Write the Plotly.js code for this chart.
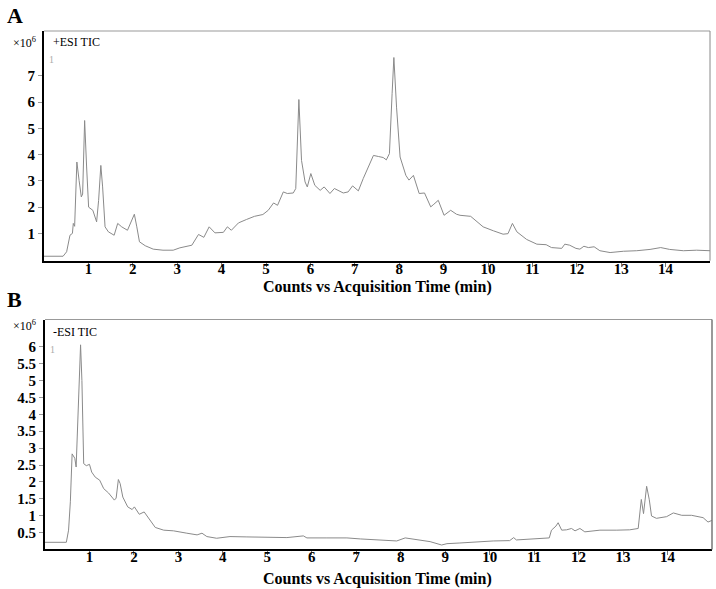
<!DOCTYPE html>
<html>
<head>
<meta charset="utf-8">
<script src="https://cdn.plot.ly/plotly-3.0.1.min.js"></script>
<style>html,body{margin:0;padding:0;background:#fff;}#chart{width:716px;height:589px;}</style>
</head>
<body>
<div id="chart"></div>
<script>
// Panel A: +ESI TIC (counts x10^6 vs minutes)
const timeA = [0, 0.43, 0.51, 0.585, 0.64, 0.66, 0.69, 0.74, 0.79, 0.84, 0.87, 0.915, 0.96, 1.005, 1.1, 1.14, 1.185, 1.23, 1.28, 1.32, 1.375, 1.45, 1.58, 1.66, 1.75, 1.88, 1.97, 2.035, 2.09, 2.15, 2.28, 2.46, 2.68, 2.91, 3.06, 3.33, 3.48, 3.6, 3.72, 3.85, 4.04, 4.13, 4.22, 4.38, 4.56, 4.74, 4.93, 5.05, 5.17, 5.26, 5.39, 5.48, 5.615, 5.67, 5.74, 5.80, 5.88, 5.93, 6.01, 6.1, 6.22, 6.31, 6.44, 6.54, 6.74, 6.85, 6.95, 7.08, 7.19, 7.30, 7.42, 7.53, 7.64, 7.71, 7.78, 7.84, 7.88, 7.94, 8.02, 8.15, 8.22, 8.32, 8.45, 8.57, 8.71, 8.78, 8.88, 9.01, 9.16, 9.29, 9.37, 9.61, 9.89, 10.12, 10.34, 10.45, 10.55, 10.65, 10.87, 11.10, 11.31, 11.43, 11.66, 11.73, 11.84, 11.98, 12.07, 12.16, 12.26, 12.39, 12.52, 12.75, 13.05, 13.35, 13.65, 13.89, 14.09, 14.40, 14.70, 15.0];
const countsA = [0.13, 0.13, 0.30, 0.93, 1.0, 1.38, 1.27, 3.72, 3.02, 2.39, 2.5, 5.30, 3.53, 2.0, 1.88, 1.69, 1.44, 2.26, 3.59, 2.77, 1.25, 1.06, 0.93, 1.38, 1.25, 1.12, 1.44, 1.73, 1.25, 0.68, 0.53, 0.40, 0.36, 0.36, 0.45, 0.55, 0.96, 0.85, 1.25, 1.02, 1.04, 1.25, 1.12, 1.40, 1.53, 1.65, 1.72, 1.88, 2.16, 2.07, 2.58, 2.52, 2.54, 2.71, 6.1, 3.78, 2.96, 2.77, 3.28, 2.83, 2.64, 2.77, 2.52, 2.71, 2.54, 2.58, 2.81, 2.62, 3.09, 3.53, 3.97, 3.93, 3.89, 3.80, 4.04, 6.32, 7.7, 5.81, 3.91, 3.21, 3.03, 3.21, 2.52, 2.54, 2.01, 2.11, 2.26, 1.69, 1.88, 1.73, 1.69, 1.65, 1.25, 1.10, 0.97, 0.99, 1.38, 1.06, 0.77, 0.59, 0.57, 0.46, 0.43, 0.59, 0.55, 0.43, 0.40, 0.51, 0.46, 0.49, 0.34, 0.27, 0.32, 0.34, 0.39, 0.46, 0.39, 0.34, 0.36, 0.34];

// Panel B: -ESI TIC
const timeB = [0, 0.48, 0.53, 0.57, 0.61, 0.67, 0.70, 0.74, 0.78, 0.8, 0.83, 0.87, 0.93, 1.0, 1.05, 1.13, 1.23, 1.32, 1.43, 1.56, 1.60, 1.65, 1.69, 1.75, 1.86, 1.96, 2.01, 2.12, 2.23, 2.33, 2.48, 2.67, 2.89, 3.19, 3.42, 3.53, 3.64, 3.86, 4.16, 4.54, 4.99, 5.21, 5.44, 5.81, 5.89, 6.34, 6.79, 7.09, 7.46, 7.91, 8.1, 8.36, 8.66, 8.92, 9.04, 9.33, 9.71, 10.08, 10.45, 10.54, 10.6, 10.98, 11.34, 11.39, 11.49, 11.54, 11.62, 11.73, 11.84, 11.92, 12.03, 12.14, 12.48, 12.86, 13.15, 13.34, 13.37, 13.41, 13.46, 13.53, 13.59, 13.64, 13.75, 13.98, 14.13, 14.32, 14.54, 14.80, 14.91, 15.0];
const countsB = [0.21, 0.21, 0.57, 1.41, 2.83, 2.70, 2.44, 3.82, 4.80, 6.06, 5.0, 2.54, 2.48, 2.52, 2.29, 2.14, 2.05, 1.80, 1.67, 1.46, 1.52, 2.07, 1.95, 1.55, 1.26, 1.18, 1.26, 1.04, 1.11, 0.92, 0.65, 0.57, 0.55, 0.48, 0.43, 0.48, 0.38, 0.33, 0.38, 0.37, 0.37, 0.37, 0.35, 0.40, 0.34, 0.34, 0.34, 0.31, 0.29, 0.25, 0.34, 0.29, 0.23, 0.13, 0.17, 0.19, 0.23, 0.25, 0.26, 0.35, 0.28, 0.30, 0.34, 0.57, 0.69, 0.79, 0.57, 0.58, 0.62, 0.55, 0.62, 0.52, 0.57, 0.57, 0.58, 0.62, 1.06, 1.48, 1.06, 1.87, 1.47, 0.99, 0.92, 0.97, 1.08, 1.01, 1.01, 0.94, 0.81, 0.86];

const xTicks = [1, 2, 3, 4, 5, 6, 7, 8, 9, 10, 11, 12, 13, 14];
const yTicksA = [1, 2, 3, 4, 5, 6, 7];
const yTicksB = [0.5, 1, 1.5, 2, 2.5, 3, 3.5, 4, 4.5, 5, 5.5, 6];
const xTitle = 'Counts vs Acquisition Time (min)';

const W = 716, H = 589;
const px = v => v / W;
const py = v => 1 - v / H;

// panel geometry (pixels)
const A = {l: 44, r: 710, t: 31, b: 260.7};
const B = {l: 45, r: 712, t: 319.5, b: 549.4};

const serif = 'Liberation Serif, Times New Roman, serif';
const lineStyle = {color: '#8a8a8a', width: 1};

const traces = [
  {x: timeA, y: countsA, type: 'scatter', mode: 'lines', line: lineStyle, xaxis: 'x', yaxis: 'y', hoverinfo: 'skip'},
  {x: timeB, y: countsB, type: 'scatter', mode: 'lines', line: lineStyle, xaxis: 'x2', yaxis: 'y2', hoverinfo: 'skip'}
];

function xa(P, anchor) {
  return {
    domain: [px(P.l), px(P.r)], anchor: anchor, range: [0, 15],
    tickvals: xTicks, ticktext: xTicks.map(String),
    ticks: 'outside', ticklen: 4, tickcolor: '#777', tickwidth: 1,
    ticklabelstandoff: -11,
    showline: true, linecolor: '#000', linewidth: 2, mirror: false,
    showgrid: false, zeroline: false,
    tickfont: {family: serif, size: 15, color: '#000', weight: 'bold'}
  };
}
function ya(P, anchor, range, vals) {
  return {
    domain: [py(P.b), py(P.t)], anchor: anchor, range: range,
    tickvals: vals, ticktext: vals.map(String),
    ticks: 'outside', ticklen: 4, tickcolor: '#999', tickwidth: 1,
    showline: true, linecolor: '#000', linewidth: 2, mirror: false,
    showgrid: false, zeroline: false,
    tickfont: {family: serif, size: 15, color: '#000', weight: 'bold'}
  };
}

const ann = (x, y, text, size, opts) => Object.assign({
  xref: 'paper', yref: 'paper', x: px(x), y: py(y), text: text, showarrow: false,
  xanchor: 'left', yanchor: 'middle', font: {family: serif, size: size, color: '#000'}
}, opts || {});

const layout = {
  width: W, height: H,
  margin: {l: 0, r: 0, t: 0, b: 0},
  paper_bgcolor: '#fff', plot_bgcolor: '#fff',
  showlegend: false,
  xaxis: xa(A, 'y'),
  yaxis: ya(A, 'x', [-0.04, 8.71], yTicksA),
  xaxis2: xa(B, 'y2'),
  yaxis2: ya(B, 'x2', [0, 6.81], yTicksB),
  shapes: [
    {type: 'line', xref: 'paper', yref: 'paper', x0: px(A.l), x1: px(A.r), y0: py(A.t), y1: py(A.t), line: {color: '#999', width: 1}},
    {type: 'line', xref: 'paper', yref: 'paper', x0: px(A.r), x1: px(A.r), y0: py(A.t), y1: py(A.b), line: {color: '#888', width: 1}},
    {type: 'line', xref: 'paper', yref: 'paper', x0: px(B.l), x1: px(B.r), y0: py(B.t), y1: py(B.t), line: {color: '#999', width: 1}},
    {type: 'line', xref: 'paper', yref: 'paper', x0: px(B.r), x1: px(B.r), y0: py(B.t), y1: py(B.b), line: {color: '#777', width: 1.5}}
  ],
  annotations: [
    ann(5, 15, '<b>A</b>', 22),
    ann(5, 299, '<b>B</b>', 22),
    ann(11, 42, '×10<sup>6</sup>', 12),
    ann(11, 325, '×10<sup>6</sup>', 12),
    ann(51, 42, '+ESI TIC', 12),
    ann(51, 332, '-ESI TIC', 12),
    ann(47, 60, '1', 10, {font: {family: serif, size: 10, color: '#aaa'}}),
    ann(48, 349, '1', 10, {font: {family: serif, size: 10, color: '#aaa'}}),
    ann(377, 287, '<b>' + xTitle + '</b>', 16, {xanchor: 'center'}),
    ann(377, 579, '<b>' + xTitle + '</b>', 16, {xanchor: 'center'})
  ]
};

Plotly.newPlot('chart', traces, layout, {staticPlot: true, displayModeBar: false});
</script>
</body>
</html>
